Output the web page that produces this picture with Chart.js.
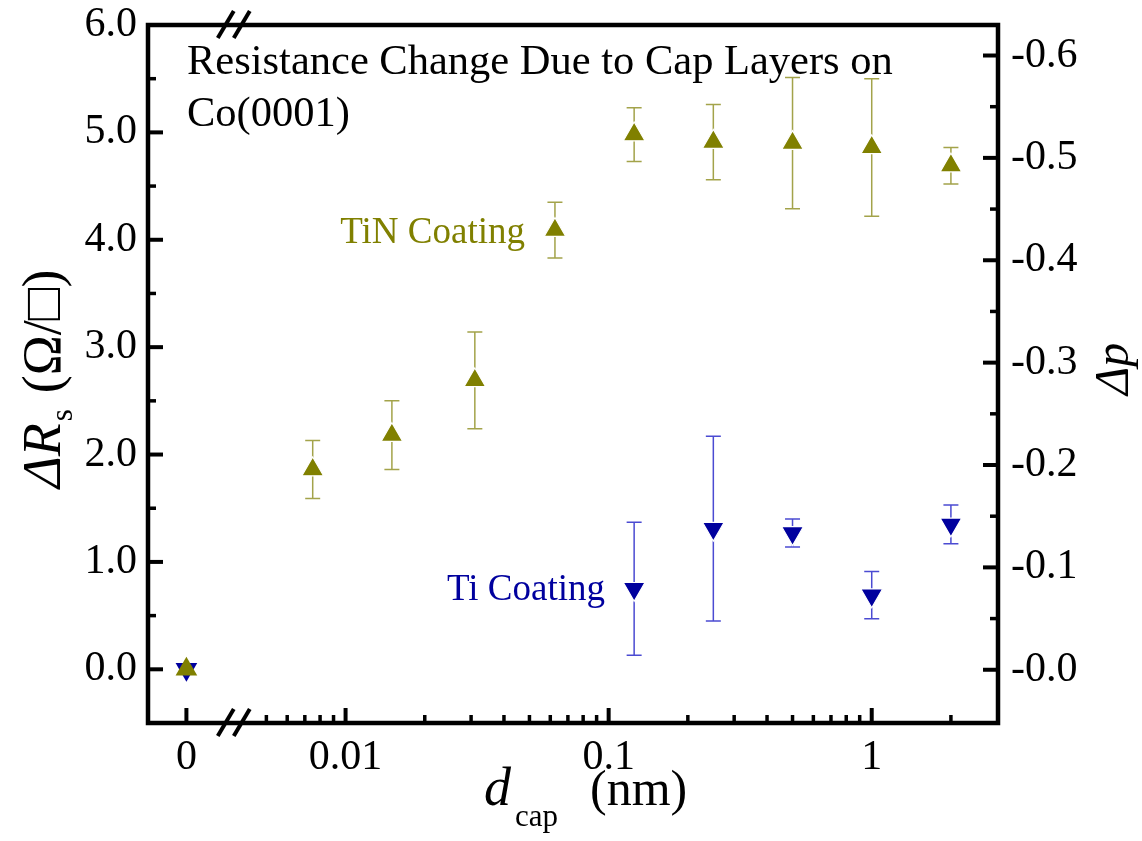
<!DOCTYPE html>
<html>
<head>
<meta charset="utf-8">
<script src="https://cdn.jsdelivr.net/npm/chart.js@4.4.1/dist/chart.umd.min.js"></script>
<style>
  html, body { margin: 0; padding: 0; background: #ffffff; }
  canvas { display: block; }
</style>
</head>
<body>
<canvas id="c" width="1142" height="841"></canvas>
<script>
// ---------- data ----------
const tinThickness = [0, 0.0075, 0.015, 0.031, 0.0625, 0.125, 0.25, 0.5, 1, 2];   // d_cap (nm)
const tinDeltaR    = [0, 1.86, 2.18, 2.69, 4.09, 4.98, 4.91, 4.90, 4.86, 4.69];   // ΔRs (Ω/□)
const tinError     = [0, 0.27, 0.32, 0.45, 0.26, 0.25, 0.35, 0.61, 0.64, 0.17];

const tiThickness  = [0, 0.125, 0.25, 0.5, 1, 2];
const tiDeltaR     = [0, 0.75, 1.31, 1.27, 0.69, 1.35];
const tiError      = [0, 0.62, 0.86, 0.13, 0.22, 0.18];

const xMajorTicks  = [0, 0.01, 0.1, 1];
const xTickLabels  = ['0', '0.01', '0.1', '1'];
const yTicks       = [0, 1, 2, 3, 4, 5, 6];
const y2Ticks      = [0, 0.1, 0.2, 0.3, 0.4, 0.5, 0.6];

// ---------- broken log axis (0 placed left of the break) ----------
const ZERO_POS  = -2.605;   // axis position used for d = 0
const BREAK_POS = -2.425;   // where the axis break marks sit
const X_MIN = -2.751, X_MAX = 0.480;   // log10 range of the bottom axis
function xPos(d) { return d === 0 ? ZERO_POS : Math.log10(d); }

const SERIF = '"Liberation Serif", "Times New Roman", serif';
const TIN_COLOR = '#808000', TIN_BAR = '#a3a34a';
const TI_COLOR = '#00009e', TI_BAR = '#4b4bd2';

function toPoints(xs, ys, es) {
  return xs.map((d, i) => ({ x: xPos(d), y: ys[i], err: es[i] }));
}

function noOverflow(s) {
  s.paddingTop = 0; s.paddingBottom = 0; s.paddingLeft = 0; s.paddingRight = 0;
}

// error bars drawn under the markers
const errorBars = {
  id: 'errorBars',
  beforeDatasetsDraw(chart) {
    const ctx = chart.ctx;
    const yScale = chart.scales.y;
    chart.data.datasets.forEach((ds, di) => {
      const meta = chart.getDatasetMeta(di);
      ctx.save();
      ctx.strokeStyle = ds.barColor;
      ctx.lineWidth = 1.5;
      meta.data.forEach((pt, i) => {
        const raw = ds.data[i];
        if (!raw.err) return;
        const x = pt.x;
        const yt = yScale.getPixelForValue(raw.y + raw.err);
        const yb = yScale.getPixelForValue(raw.y - raw.err);
        ctx.beginPath();
        ctx.moveTo(x, yt); ctx.lineTo(x, yb);
        ctx.moveTo(x - 7.5, yt); ctx.lineTo(x + 7.5, yt);
        ctx.moveTo(x - 7.5, yb); ctx.lineTo(x + 7.5, yb);
        ctx.stroke();
      });
      ctx.restore();
    });
  }
};

// frame, inward ticks, axis breaks, axis titles and annotations
const decorations = {
  id: 'decorations',
  afterDraw(chart) {
    const ctx = chart.ctx;
    const a = chart.chartArea;
    const xs = chart.scales.x, ys = chart.scales.y, y2s = chart.scales.y2;
    ctx.save();
    ctx.strokeStyle = '#000';
    ctx.lineCap = 'butt';

    function tick(x1, y1, x2, y2, w) {
      ctx.lineWidth = w;
      ctx.beginPath(); ctx.moveTo(x1, y1); ctx.lineTo(x2, y2); ctx.stroke();
    }
    // bottom axis
    xMajorTicks.forEach(d => {
      const px = xs.getPixelForValue(xPos(d));
      tick(px, a.bottom, px, a.bottom - 15, 4);
    });
    for (let n = -3; n <= 0; n++) {
      for (let k = 2; k <= 9; k++) {
        const p = Math.log10(k * Math.pow(10, n));
        if (p > BREAK_POS + 0.05 && p < X_MAX - 0.01) {
          const px = xs.getPixelForValue(p);
          tick(px, a.bottom, px, a.bottom - 8, 3.5);
        }
      }
    }
    // left axis
    yTicks.forEach(v => {
      const py = ys.getPixelForValue(v);
      tick(a.left, py, a.left + 15, py, 4);
      const pm = ys.getPixelForValue(v + 0.5);
      if (v + 0.5 < ys.max) tick(a.left, pm, a.left + 8, pm, 3.5);
    });
    // right axis
    y2Ticks.forEach(v => {
      const py = y2s.getPixelForValue(v);
      tick(a.right, py, a.right - 15, py, 4);
      const pm = y2s.getPixelForValue(v + 0.05);
      if (v + 0.05 < y2s.max) tick(a.right, pm, a.right - 8, pm, 3.5);
    });

    // frame
    ctx.lineWidth = 4.5;
    ctx.lineJoin = 'miter';
    ctx.strokeRect(a.left, a.top, a.right - a.left, a.bottom - a.top);

    // axis break marks
    const bx = xs.getPixelForValue(BREAK_POS);
    ctx.lineWidth = 4;
    [a.top, a.bottom].forEach(yy => {
      [-8, 8].forEach(off => {
        ctx.beginPath();
        ctx.moveTo(bx + off - 8, yy + 13);
        ctx.lineTo(bx + off + 8, yy - 14);
        ctx.stroke();
      });
    });

    // annotations
    ctx.fillStyle = '#000';
    ctx.textBaseline = 'alphabetic';
    ctx.textAlign = 'left';
    ctx.font = '42.5px ' + SERIF;
    ctx.fillText('Resistance Change Due to Cap Layers on', 187, 74);
    ctx.fillText('Co(0001)', 187, 126);

    ctx.font = '37px ' + SERIF;
    ctx.fillStyle = TIN_COLOR;
    ctx.textAlign = 'right';
    ctx.fillText('TiN Coating', 525, 243);
    ctx.fillStyle = TI_COLOR;
    ctx.fillText('Ti Coating', 605, 600);

    // x title: d_cap (nm)
    ctx.fillStyle = '#000';
    ctx.textAlign = 'left';
    ctx.font = 'italic 54px ' + SERIF;
    ctx.fillText('d', 484, 805);
    ctx.font = '31px ' + SERIF;
    ctx.fillText('cap', 515, 826);
    ctx.font = '50px ' + SERIF;
    ctx.fillText('(nm)', 590, 805);

    // left y title: ΔR_s (Ω/□)
    ctx.save();
    ctx.translate(60, 488);
    ctx.rotate(-Math.PI / 2);
    ctx.font = 'italic 54px ' + SERIF;
    ctx.fillText('ΔR', 0, 0);
    let w = ctx.measureText('ΔR').width;
    ctx.font = '31px ' + SERIF;
    ctx.fillText('s', w + 2, 12);
    w += ctx.measureText('s').width + 18;
    ctx.font = '54px ' + SERIF;
    ctx.fillText('(Ω/□)', w, 0);
    ctx.restore();

    // right y title: Δp
    ctx.save();
    ctx.translate(1128, 395);
    ctx.rotate(-Math.PI / 2);
    ctx.font = 'italic 48px ' + SERIF;
    ctx.fillText('Δp', 0, 0);
    ctx.restore();

    ctx.restore();
  }
};

new Chart(document.getElementById('c'), {
  type: 'scatter',
  data: {
    datasets: [
      {
        label: 'TiN Coating',
        data: toPoints(tinThickness, tinDeltaR, tinError),
        yAxisID: 'y',
        pointStyle: 'triangle',
        pointRadius: 12.5,
        pointRotation: 0,
        backgroundColor: TIN_COLOR,
        borderColor: '#ffffff',
        pointBorderWidth: c => (c.raw && c.raw.x === ZERO_POS ? 0 : 1.2),
        barColor: TIN_BAR
      },
      {
        label: 'Ti Coating',
        data: toPoints(tiThickness, tiDeltaR, tiError),
        yAxisID: 'y',
        pointStyle: 'triangle',
        pointRadius: 12.5,
        pointRotation: 180,
        backgroundColor: TI_COLOR,
        borderColor: '#ffffff',
        pointBorderWidth: c => (c.raw && c.raw.x === ZERO_POS ? 0 : 1.2),
        barColor: TI_BAR
      }
    ]
  },
  options: {
    responsive: false,
    devicePixelRatio: 1,
    animation: false,
    layout: { padding: { top: 25, left: 0, right: 0, bottom: 0 } },
    plugins: { legend: { display: false }, tooltip: { enabled: false } },
    scales: {
      x: {
        type: 'linear',
        position: 'bottom',
        min: X_MIN,
        max: X_MAX,
        grid: { display: false, drawTicks: false, tickLength: 0 },
        border: { display: false },
        afterBuildTicks: s => { s.ticks = xMajorTicks.map(d => ({ value: xPos(d) })); },
        afterFit: s => { s.height = 118; noOverflow(s); },
        ticks: {
          autoSkip: false,
          maxRotation: 0,
          padding: 10,
          color: '#000',
          font: { family: SERIF, size: 42 },
          callback: (v, i) => xTickLabels[i]
        }
      },
      y: {
        type: 'linear',
        position: 'left',
        min: -0.5,
        max: 6.0,
        grid: { display: false, drawTicks: false, tickLength: 0 },
        border: { display: false },
        afterBuildTicks: s => { s.ticks = yTicks.map(v => ({ value: v })); },
        afterFit: s => { s.width = 148; noOverflow(s); },
        ticks: {
          padding: 11,
          color: '#000',
          font: { family: SERIF, size: 42 },
          callback: v => Number(v).toFixed(1)
        }
      },
      y2: {
        type: 'linear',
        position: 'right',
        min: -0.052,
        max: 0.6298,
        grid: { display: false, drawTicks: false, tickLength: 0 },
        border: { display: false },
        afterBuildTicks: s => { s.ticks = y2Ticks.map(v => ({ value: v })); },
        afterFit: s => { s.width = 144; noOverflow(s); },
        ticks: {
          padding: 13,
          color: '#000',
          font: { family: SERIF, size: 42 },
          callback: v => '-' + Math.abs(Number(v)).toFixed(1)
        }
      }
    }
  },
  plugins: [errorBars, decorations]
});
</script>
</body>
</html>
